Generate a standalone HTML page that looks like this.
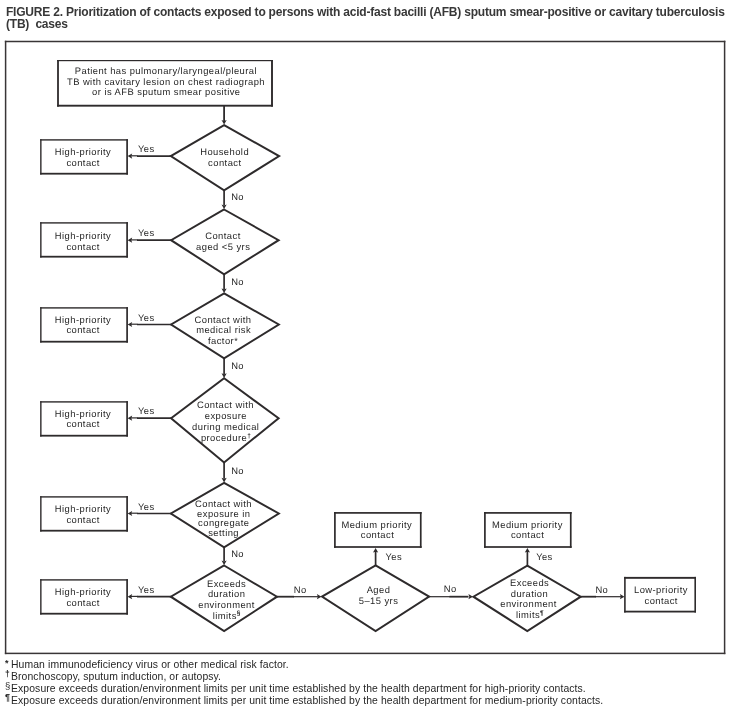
<!DOCTYPE html>
<html><head><meta charset="utf-8"><style>
html,body{margin:0;padding:0;background:#fff;}
body{width:734px;height:711px;position:relative;overflow:hidden;font-family:"Liberation Sans",sans-serif;color:#262626;}
.t{position:absolute;will-change:transform;color:#383838;font-weight:bold;font-size:12px;letter-spacing:-0.21px;white-space:nowrap;line-height:1;}
.fn{position:absolute;will-change:transform;left:10.9px;font-size:10.4px;letter-spacing:0.1px;white-space:nowrap;line-height:1;}
.sy{position:absolute;will-change:transform;white-space:nowrap;line-height:1;}
svg{position:absolute;left:0;top:0;will-change:transform;}
svg text{font-family:"Liberation Sans",sans-serif;fill:#262626;text-rendering:geometricPrecision;}
</style></head><body>
<svg width="734" height="711" viewBox="0 0 734 711">
<rect x="4.85" y="40.75" width="720.50" height="1.50" fill="#393536"/>
<rect x="4.85" y="652.65" width="720.50" height="1.50" fill="#393536"/>
<rect x="4.85" y="40.75" width="1.50" height="613.40" fill="#393536"/>
<rect x="723.85" y="40.75" width="1.50" height="613.40" fill="#393536"/>
<rect x="57.10" y="60.00" width="215.85" height="1.20" fill="#2e2b2c"/>
<rect x="57.10" y="104.75" width="215.85" height="1.90" fill="#2e2b2c"/>
<rect x="57.10" y="60.00" width="1.80" height="46.65" fill="#2e2b2c"/>
<rect x="271.05" y="60.00" width="1.90" height="46.65" fill="#2e2b2c"/>
<line x1="224.10" y1="106.00" x2="224.10" y2="121.00" stroke="#2e2b2c" stroke-width="1.8"/>
<path d="M224.10 124.60 L221.50 120.00 L224.10 120.90 L226.70 120.00 Z" fill="#2e2b2c"/>
<path d="M224.10 125.10 L279.10 156.10 L224.10 190.40 L170.80 156.10 Z" fill="none" stroke="#2e2b2c" stroke-width="2.0" stroke-linejoin="miter" stroke-miterlimit="10"/>
<line x1="171.10" y1="156.10" x2="137.00" y2="156.10" stroke="#2e2b2c" stroke-width="1.7"/>
<line x1="137.50" y1="155.80" x2="130.00" y2="155.80" stroke="#2e2b2c" stroke-width="1.2"/>
<path d="M127.60 156.10 L132.20 153.50 L131.30 156.10 L132.20 158.70 Z" fill="#2e2b2c"/>
<path d="M224.10 209.50 L278.60 240.20 L224.10 274.30 L171.10 240.20 Z" fill="none" stroke="#2e2b2c" stroke-width="2.0" stroke-linejoin="miter" stroke-miterlimit="10"/>
<line x1="171.40" y1="240.20" x2="137.00" y2="240.20" stroke="#2e2b2c" stroke-width="1.7"/>
<line x1="137.50" y1="239.90" x2="130.00" y2="239.90" stroke="#2e2b2c" stroke-width="1.2"/>
<path d="M127.60 240.20 L132.20 237.60 L131.30 240.20 L132.20 242.80 Z" fill="#2e2b2c"/>
<line x1="224.10" y1="190.00" x2="224.10" y2="205.40" stroke="#2e2b2c" stroke-width="1.7"/>
<path d="M224.10 209.10 L221.50 204.50 L224.10 205.40 L226.70 204.50 Z" fill="#2e2b2c"/>
<path d="M224.10 293.40 L278.80 324.50 L224.10 358.30 L171.10 324.50 Z" fill="none" stroke="#2e2b2c" stroke-width="2.0" stroke-linejoin="miter" stroke-miterlimit="10"/>
<line x1="171.40" y1="324.50" x2="137.00" y2="324.50" stroke="#2e2b2c" stroke-width="1.7"/>
<line x1="137.50" y1="324.20" x2="130.00" y2="324.20" stroke="#2e2b2c" stroke-width="1.2"/>
<path d="M127.60 324.50 L132.20 321.90 L131.30 324.50 L132.20 327.10 Z" fill="#2e2b2c"/>
<line x1="224.10" y1="273.90" x2="224.10" y2="289.30" stroke="#2e2b2c" stroke-width="1.7"/>
<path d="M224.10 293.00 L221.50 288.40 L224.10 289.30 L226.70 288.40 Z" fill="#2e2b2c"/>
<path d="M224.10 378.30 L278.60 418.20 L224.10 462.50 L171.10 418.20 Z" fill="none" stroke="#2e2b2c" stroke-width="2.0" stroke-linejoin="miter" stroke-miterlimit="10"/>
<line x1="171.40" y1="418.20" x2="137.00" y2="418.20" stroke="#2e2b2c" stroke-width="1.7"/>
<line x1="137.50" y1="417.90" x2="130.00" y2="417.90" stroke="#2e2b2c" stroke-width="1.2"/>
<path d="M127.60 418.20 L132.20 415.60 L131.30 418.20 L132.20 420.80 Z" fill="#2e2b2c"/>
<line x1="224.10" y1="357.90" x2="224.10" y2="374.20" stroke="#2e2b2c" stroke-width="1.7"/>
<path d="M224.10 377.90 L221.50 373.30 L224.10 374.20 L226.70 373.30 Z" fill="#2e2b2c"/>
<path d="M224.10 482.80 L278.80 513.50 L224.10 547.30 L170.90 513.50 Z" fill="none" stroke="#2e2b2c" stroke-width="2.0" stroke-linejoin="miter" stroke-miterlimit="10"/>
<line x1="171.20" y1="513.50" x2="137.00" y2="513.50" stroke="#2e2b2c" stroke-width="1.7"/>
<line x1="137.50" y1="513.20" x2="130.00" y2="513.20" stroke="#2e2b2c" stroke-width="1.2"/>
<path d="M127.60 513.50 L132.20 510.90 L131.30 513.50 L132.20 516.10 Z" fill="#2e2b2c"/>
<line x1="224.10" y1="462.10" x2="224.10" y2="478.70" stroke="#2e2b2c" stroke-width="1.7"/>
<path d="M224.10 482.40 L221.50 477.80 L224.10 478.70 L226.70 477.80 Z" fill="#2e2b2c"/>
<path d="M224.10 565.50 L277.00 596.70 L224.10 631.10 L170.80 596.70 Z" fill="none" stroke="#2e2b2c" stroke-width="2.0" stroke-linejoin="miter" stroke-miterlimit="10"/>
<line x1="171.10" y1="596.70" x2="137.00" y2="596.70" stroke="#2e2b2c" stroke-width="1.7"/>
<line x1="137.50" y1="596.40" x2="130.00" y2="596.40" stroke="#2e2b2c" stroke-width="1.2"/>
<path d="M127.60 596.70 L132.20 594.10 L131.30 596.70 L132.20 599.30 Z" fill="#2e2b2c"/>
<line x1="224.10" y1="546.90" x2="224.10" y2="561.40" stroke="#2e2b2c" stroke-width="1.7"/>
<path d="M224.10 565.10 L221.50 560.50 L224.10 561.40 L226.70 560.50 Z" fill="#2e2b2c"/>
<rect x="40.15" y="139.20" width="87.80" height="1.40" fill="#2e2b2c"/>
<rect x="40.15" y="172.80" width="87.80" height="1.80" fill="#2e2b2c"/>
<rect x="40.15" y="139.20" width="1.40" height="35.40" fill="#2e2b2c"/>
<rect x="126.25" y="139.20" width="1.70" height="35.40" fill="#2e2b2c"/>
<rect x="40.15" y="222.20" width="87.80" height="1.40" fill="#2e2b2c"/>
<rect x="40.15" y="255.80" width="87.80" height="1.80" fill="#2e2b2c"/>
<rect x="40.15" y="222.20" width="1.40" height="35.40" fill="#2e2b2c"/>
<rect x="126.25" y="222.20" width="1.70" height="35.40" fill="#2e2b2c"/>
<rect x="40.15" y="307.20" width="87.80" height="1.40" fill="#2e2b2c"/>
<rect x="40.15" y="340.80" width="87.80" height="1.80" fill="#2e2b2c"/>
<rect x="40.15" y="307.20" width="1.40" height="35.40" fill="#2e2b2c"/>
<rect x="126.25" y="307.20" width="1.70" height="35.40" fill="#2e2b2c"/>
<rect x="40.15" y="401.20" width="87.80" height="1.40" fill="#2e2b2c"/>
<rect x="40.15" y="434.80" width="87.80" height="1.80" fill="#2e2b2c"/>
<rect x="40.15" y="401.20" width="1.40" height="35.40" fill="#2e2b2c"/>
<rect x="126.25" y="401.20" width="1.70" height="35.40" fill="#2e2b2c"/>
<rect x="40.15" y="496.20" width="87.80" height="1.40" fill="#2e2b2c"/>
<rect x="40.15" y="529.80" width="87.80" height="1.80" fill="#2e2b2c"/>
<rect x="40.15" y="496.20" width="1.40" height="35.40" fill="#2e2b2c"/>
<rect x="126.25" y="496.20" width="1.70" height="35.40" fill="#2e2b2c"/>
<rect x="40.15" y="579.20" width="87.80" height="1.40" fill="#2e2b2c"/>
<rect x="40.15" y="612.80" width="87.80" height="1.80" fill="#2e2b2c"/>
<rect x="40.15" y="579.20" width="1.40" height="35.40" fill="#2e2b2c"/>
<rect x="126.25" y="579.20" width="1.70" height="35.40" fill="#2e2b2c"/>
<path d="M375.60 565.35 L429.10 596.60 L375.60 631.10 L322.00 596.60 Z" fill="none" stroke="#2e2b2c" stroke-width="2.0" stroke-linejoin="miter" stroke-miterlimit="10"/>
<path d="M527.30 565.70 L580.70 596.70 L527.30 631.10 L473.40 596.70 Z" fill="none" stroke="#2e2b2c" stroke-width="2.0" stroke-linejoin="miter" stroke-miterlimit="10"/>
<line x1="277.00" y1="596.70" x2="294.00" y2="596.70" stroke="#2e2b2c" stroke-width="1.8"/>
<line x1="293.50" y1="596.70" x2="318.00" y2="596.70" stroke="#2e2b2c" stroke-width="1.2"/>
<path d="M321.50 596.70 L316.90 594.10 L317.80 596.70 L316.90 599.30 Z" fill="#2e2b2c"/>
<line x1="429.00" y1="596.70" x2="450.00" y2="596.70" stroke="#2e2b2c" stroke-width="1.2"/>
<line x1="449.50" y1="596.70" x2="468.50" y2="596.70" stroke="#2e2b2c" stroke-width="1.8"/>
<path d="M473.00 596.70 L468.40 594.10 L469.30 596.70 L468.40 599.30 Z" fill="#2e2b2c"/>
<line x1="580.50" y1="596.70" x2="596.00" y2="596.70" stroke="#2e2b2c" stroke-width="1.8"/>
<line x1="595.50" y1="596.70" x2="621.00" y2="596.70" stroke="#2e2b2c" stroke-width="1.2"/>
<path d="M624.50 596.70 L619.90 594.10 L620.80 596.70 L619.90 599.30 Z" fill="#2e2b2c"/>
<rect x="334.05" y="512.05" width="87.55" height="1.70" fill="#2e2b2c"/>
<rect x="334.05" y="546.15" width="87.55" height="1.70" fill="#2e2b2c"/>
<rect x="334.05" y="512.05" width="1.70" height="35.80" fill="#2e2b2c"/>
<rect x="419.90" y="512.05" width="1.70" height="35.80" fill="#2e2b2c"/>
<rect x="484.05" y="512.05" width="87.55" height="1.70" fill="#2e2b2c"/>
<rect x="484.05" y="546.15" width="87.55" height="1.70" fill="#2e2b2c"/>
<rect x="484.05" y="512.05" width="1.70" height="35.80" fill="#2e2b2c"/>
<rect x="569.90" y="512.05" width="1.70" height="35.80" fill="#2e2b2c"/>
<line x1="375.60" y1="565.50" x2="375.60" y2="551.00" stroke="#2e2b2c" stroke-width="1.7"/>
<path d="M375.60 548.00 L373.00 552.60 L375.60 551.70 L378.20 552.60 Z" fill="#2e2b2c"/>
<line x1="527.40" y1="566.00" x2="527.40" y2="551.00" stroke="#2e2b2c" stroke-width="1.7"/>
<path d="M527.40 548.00 L524.80 552.60 L527.40 551.70 L530.00 552.60 Z" fill="#2e2b2c"/>
<rect x="624.10" y="576.90" width="71.90" height="1.90" fill="#2e2b2c"/>
<rect x="624.10" y="610.70" width="71.90" height="1.80" fill="#2e2b2c"/>
<rect x="624.10" y="576.90" width="1.60" height="35.60" fill="#2e2b2c"/>
<rect x="694.40" y="576.90" width="1.60" height="35.60" fill="#2e2b2c"/>
<text x="74.80" y="73.9" font-size="9.4" letter-spacing="0.450">Patient has pulmonary/laryngeal/pleural</text>
<text x="66.96" y="84.6" font-size="9.4" letter-spacing="0.450">TB with cavitary lesion on chest radiograph</text>
<text x="92.12" y="94.7" font-size="9.4" letter-spacing="0.450">or is AFB sputum smear positive</text>
<text x="54.82" y="154.9" font-size="9.4" letter-spacing="0.450">High-priority</text>
<text x="66.39" y="165.8" font-size="9.4" letter-spacing="0.450">contact</text>
<text x="54.82" y="238.8" font-size="9.4" letter-spacing="0.450">High-priority</text>
<text x="66.39" y="249.7" font-size="9.4" letter-spacing="0.450">contact</text>
<text x="54.82" y="322.9" font-size="9.4" letter-spacing="0.450">High-priority</text>
<text x="66.39" y="332.7" font-size="9.4" letter-spacing="0.450">contact</text>
<text x="54.82" y="416.9" font-size="9.4" letter-spacing="0.450">High-priority</text>
<text x="66.39" y="426.7" font-size="9.4" letter-spacing="0.450">contact</text>
<text x="54.82" y="511.9" font-size="9.4" letter-spacing="0.450">High-priority</text>
<text x="66.39" y="522.8" font-size="9.4" letter-spacing="0.450">contact</text>
<text x="54.82" y="594.9" font-size="9.4" letter-spacing="0.450">High-priority</text>
<text x="66.39" y="605.8" font-size="9.4" letter-spacing="0.450">contact</text>
<text x="138.08" y="152.4" font-size="9.4" letter-spacing="0.350">Yes</text>
<text x="138.08" y="236.1" font-size="9.4" letter-spacing="0.350">Yes</text>
<text x="138.08" y="320.6" font-size="9.4" letter-spacing="0.350">Yes</text>
<text x="138.08" y="414.3" font-size="9.4" letter-spacing="0.350">Yes</text>
<text x="138.08" y="509.6" font-size="9.4" letter-spacing="0.350">Yes</text>
<text x="138.08" y="592.8000000000001" font-size="9.4" letter-spacing="0.350">Yes</text>
<text x="231.16" y="199.8" font-size="9.4" letter-spacing="0.350">No</text>
<text x="231.16" y="284.8" font-size="9.4" letter-spacing="0.350">No</text>
<text x="231.16" y="368.8" font-size="9.4" letter-spacing="0.350">No</text>
<text x="231.16" y="473.8" font-size="9.4" letter-spacing="0.350">No</text>
<text x="231.16" y="556.6" font-size="9.4" letter-spacing="0.350">No</text>
<text x="200.20" y="154.9" font-size="9.4" letter-spacing="0.450">Household</text>
<text x="208.12" y="165.8" font-size="9.4" letter-spacing="0.450">contact</text>
<text x="205.24" y="238.7" font-size="9.4" letter-spacing="0.450">Contact</text>
<text x="196.08" y="249.7" font-size="9.4" letter-spacing="0.450">aged &lt;5 yrs</text>
<text x="194.50" y="322.9" font-size="9.4" letter-spacing="0.450">Contact with</text>
<text x="196.20" y="332.7" font-size="9.4" letter-spacing="0.450">medical risk</text>
<text x="208.02" y="343.5" font-size="9.4" letter-spacing="0.450">factor<tspan font-size="9" dy="0.3">*</tspan></text>
<text x="196.94" y="407.8" font-size="9.4" letter-spacing="0.450">Contact with</text>
<text x="204.74" y="419.1" font-size="9.4" letter-spacing="0.450">exposure</text>
<text x="192.12" y="430.1" font-size="9.4" letter-spacing="0.450">during medical</text>
<text x="200.88" y="441" font-size="9.4" letter-spacing="0.450">procedure<tspan font-size="6.5" dy="-3.4" font-weight="bold">†</tspan></text>
<text x="195.04" y="506.7" font-size="9.4" letter-spacing="0.450">Contact with</text>
<text x="197.08" y="516.7" font-size="9.4" letter-spacing="0.450">exposure in</text>
<text x="198.08" y="526" font-size="9.4" letter-spacing="0.450">congregate</text>
<text x="208.22" y="536" font-size="9.4" letter-spacing="0.450">setting</text>
<text x="207.04" y="586.7" font-size="9.4" letter-spacing="0.450">Exceeds</text>
<text x="207.94" y="596.7" font-size="9.4" letter-spacing="0.450">duration</text>
<text x="198.30" y="607.6" font-size="9.4" letter-spacing="0.450">environment</text>
<text x="212.74" y="618.7" font-size="9.4" letter-spacing="0.450">limits<tspan font-size="6.5" dy="-3.4" font-weight="bold">§</tspan></text>
<text x="366.64" y="592.6" font-size="9.4" letter-spacing="0.450">Aged</text>
<text x="358.72" y="603.6" font-size="9.4" letter-spacing="0.450">5–15 yrs</text>
<text x="510.12" y="585.8" font-size="9.4" letter-spacing="0.450">Exceeds</text>
<text x="510.73" y="596.7" font-size="9.4" letter-spacing="0.450">duration</text>
<text x="500.24" y="606.5" font-size="9.4" letter-spacing="0.450">environment</text>
<text x="516.04" y="618.0" font-size="9.4" letter-spacing="0.450">limits<tspan font-size="6.5" dy="-3.4" font-weight="bold">¶</tspan></text>
<text x="341.38" y="527.75" font-size="9.4" letter-spacing="0.450">Medium priority</text>
<text x="360.82" y="537.7" font-size="9.4" letter-spacing="0.450">contact</text>
<text x="491.96" y="527.75" font-size="9.4" letter-spacing="0.450">Medium priority</text>
<text x="510.90" y="537.7" font-size="9.4" letter-spacing="0.450">contact</text>
<text x="634.00" y="592.7" font-size="9.4" letter-spacing="0.450">Low-priority</text>
<text x="644.56" y="603.6" font-size="9.4" letter-spacing="0.450">contact</text>
<text x="385.62" y="559.6" font-size="9.4" letter-spacing="0.350">Yes</text>
<text x="536.22" y="559.6" font-size="9.4" letter-spacing="0.350">Yes</text>
<text x="293.84" y="592.6" font-size="9.4" letter-spacing="0.350">No</text>
<text x="443.82" y="591.8" font-size="9.4" letter-spacing="0.350">No</text>
<text x="595.50" y="592.6" font-size="9.4" letter-spacing="0.350">No</text>
</svg>
<div class="t" style="left:6px;top:6.4px">FIGURE 2. Prioritization of contacts exposed to persons with acid-fast bacilli (AFB) sputum smear-positive or cavitary tuberculosis</div>
<div class="t" style="left:6px;top:18px">(TB)&nbsp; cases</div>
<div class="sy" style="left:5.3px;top:659.3px;font-size:9px;font-weight:bold">*</div>
<div class="sy" style="left:5px;top:669.5px;font-size:8.5px;font-weight:bold">†</div>
<div class="sy" style="left:4.6px;top:680.6px;font-size:9.5px">§</div>
<div class="sy" style="left:5px;top:692.6px;font-size:9px;font-weight:bold">¶</div>
<div class="fn" style="top:659.8px">Human immunodeficiency virus or other medical risk factor.</div>
<div class="fn" style="top:671.9px">Bronchoscopy, sputum induction, or autopsy.</div>
<div class="fn" style="top:684px">Exposure exceeds duration/environment limits per unit time established by the health department for high-priority contacts.</div>
<div class="fn" style="top:695.9px">Exposure exceeds duration/environment limits per unit time established by the health department for medium-priority contacts.</div>
</body></html>
